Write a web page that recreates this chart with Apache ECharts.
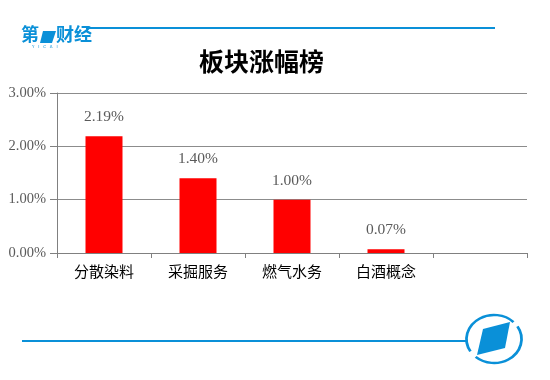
<!DOCTYPE html>
<html>
<head>
<meta charset="utf-8">
<script src="https://cdn.jsdelivr.net/npm/echarts@6/dist/echarts.min.js"></script>
<style>
  html, body { margin: 0; padding: 0; background: #fff; }
  #chart { width: 550px; height: 380px; }
</style>
</head>
<body>
<div id="chart"></div>
<script>
// sector gains, percent
var categories = ['分散染料', '采掘服务', '燃气水务', '白酒概念', ''];
var gains = [2.19, 1.40, 1.00, 0.07, null];
var yTicks = [0, 1, 2, 3];

var BLUE = '#0a90d8';
var chart = echarts.init(document.getElementById('chart'));

var option = {
    animation: false,
    backgroundColor: '#fff',
    title: {
        text: '板块涨幅榜',
        left: 194,
        top: 44,
        textStyle: {
            fontFamily: 'Noto Sans CJK SC',
            fontSize: 25,
            fontWeight: 'bold',
            color: '#000'
        }
    },
    grid: {
        left: 57,
        right: 23,
        top: 93,
        bottom: 127
    },
    xAxis: {
        type: 'category',
        data: categories,
        axisLine: { lineStyle: { color: '#808080', width: 1 } },
        axisTick: { show: true, length: 5, lineStyle: { color: '#808080' } },
        axisLabel: {
            margin: 11,
            fontFamily: 'Noto Sans CJK SC',
            fontSize: 15,
            color: '#000'
        }
    },
    yAxis: {
        type: 'value',
        min: yTicks[0],
        max: yTicks[yTicks.length - 1],
        interval: 1,
        axisLine: { show: true, lineStyle: { color: '#808080', width: 1 } },
        axisTick: { show: true, length: 7, lineStyle: { color: '#808080' } },
        splitLine: { lineStyle: { color: '#8c8c8c', width: 1 } },
        axisLabel: {
            margin: 11,
            fontFamily: 'Liberation Serif',
            fontSize: 14.5,
            color: '#5a5a5a',
            formatter: function (v) { return v.toFixed(2) + '%'; }
        }
    },
    series: [{
        type: 'bar',
        data: gains,
        barWidth: 37,
        itemStyle: { color: '#ff0000' },
        label: {
            show: true,
            position: 'top',
            distance: 11,
            fontFamily: 'Liberation Serif',
            fontSize: 15.5,
            color: '#5a5a5a',
            formatter: function (p) { return p.value.toFixed(2) + '%'; }
        }
    }],
    graphic: [
        // top rule
        { type: 'line', shape: { x1: 86, y1: 28, x2: 495, y2: 28 },
          style: { stroke: BLUE, lineWidth: 2 } },
        // bottom rule
        { type: 'line', shape: { x1: 22, y1: 341, x2: 467, y2: 341 },
          style: { stroke: BLUE, lineWidth: 2 } },
        // logo top-left
        { type: 'text', left: 21, top: 25,
          style: { text: '第', fontFamily: 'Noto Sans CJK SC', fontWeight: 'bold',
                   fontSize: 18, fill: BLUE } },
        { type: 'polygon', shape: { points: [[43, 31], [56, 31], [52, 43], [40, 43]] },
          style: { fill: BLUE } },
        { type: 'text', left: 56, top: 25,
          style: { text: '财经', fontFamily: 'Noto Sans CJK SC', fontWeight: 'bold',
                   fontSize: 18, fill: BLUE } },
        { type: 'text', left: 32, top: 45,
          style: { text: 'Y   I   C   A   I', fontFamily: 'DejaVu Sans',
                   fontSize: 4, fill: BLUE } },
        // logo bottom-right
        { type: 'arc', shape: { cx: 494, cy: 339, r: 25, startAngle: -0.55, endAngle: 2.3 },
          scaleX: 1.1, scaleY: 0.96, originX: 494, originY: 339,
          style: { stroke: BLUE, lineWidth: 2.5, fill: null } },
        { type: 'arc', shape: { cx: 494, cy: 339, r: 25, startAngle: 2.6, endAngle: 5.5 },
          scaleX: 1.1, scaleY: 0.96, originX: 494, originY: 339,
          style: { stroke: BLUE, lineWidth: 2.5, fill: null } },
        { type: 'polygon', shape: { points: [[510, 322], [483, 329], [477, 355], [505, 348]] },
          style: { fill: BLUE } }
    ]
};

chart.setOption(option);
</script>
</body>
</html>
